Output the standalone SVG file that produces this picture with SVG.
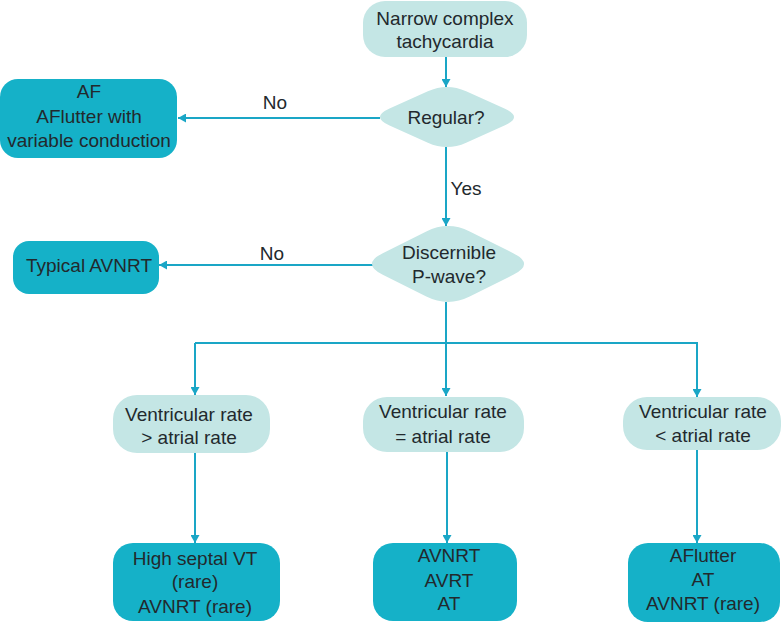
<svg xmlns="http://www.w3.org/2000/svg" width="781" height="624" viewBox="0 0 781 624">
<defs>
<style>
.light{fill:#C4E6E5;}
.dark{fill:#15B1C8;}
.t{font-family:"Liberation Sans",Arial,sans-serif;font-size:19px;fill:#22292d;text-anchor:middle;}
.c{stroke:#1AA6C6;stroke-width:2;fill:none;}
</style>
<marker id="ah" markerUnits="userSpaceOnUse" markerWidth="9" markerHeight="9" refX="8" refY="4.5" orient="auto">
<path d="M0,0 L8,4.5 L0,9 z" fill="#1AA6C6"/>
</marker>
</defs>
<rect width="781" height="624" fill="#ffffff"/>
<g id="connectors">
<line class="c" x1="446" y1="57" x2="446" y2="87" marker-end="url(#ah)"/>
<line class="c" x1="380" y1="118" x2="178" y2="118" marker-end="url(#ah)"/>
<line class="c" x1="446" y1="147" x2="446" y2="226" marker-end="url(#ah)"/>
<line class="c" x1="373" y1="265" x2="159" y2="265" marker-end="url(#ah)"/>
<polyline class="c" points="446,302 446,343"/>
<polyline class="c" points="195,343 698,343"/>
<line class="c" x1="195" y1="343" x2="195" y2="395" marker-end="url(#ah)"/>
<line class="c" x1="446" y1="343" x2="446" y2="396" marker-end="url(#ah)"/>
<line class="c" x1="697" y1="343" x2="697" y2="397" marker-end="url(#ah)"/>
<line class="c" x1="195" y1="453" x2="195" y2="543" marker-end="url(#ah)"/>
<line class="c" x1="447" y1="452" x2="447" y2="543" marker-end="url(#ah)"/>
<line class="c" x1="697" y1="450" x2="697" y2="543" marker-end="url(#ah)"/>
<text class="t" x="275" y="109">No</text>
<text class="t" x="466" y="195">Yes</text>
<text class="t" x="272" y="260">No</text>
</g>
<g id="start">
<rect class="light" x="363" y="1" width="164" height="56" rx="22"/>
<text class="t" x="445" y="25">Narrow complex</text>
<text class="t" x="445" y="48">tachycardia</text>
</g>
<g id="regular">
<path class="light" d="M389.55,108.4 L427.85,91.3 Q447,82.7 466.15,91.3 L504.45,108.4 Q523.6,117 504.45,125.6 L466.15,142.7 Q447,151.3 427.85,142.7 L389.55,125.6 Q370.4,117 389.55,108.4 Z"/>
<text class="t" x="446" y="124">Regular?</text>
</g>
<g id="af">
<rect class="dark" x="0" y="79" width="177" height="79" rx="18"/>
<text class="t" x="89" y="98">AF</text>
<text class="t" x="89" y="123">AFlutter with</text>
<text class="t" x="89" y="147">variable conduction</text>
</g>
<g id="pwave">
<path class="light" d="M382.8,253.15 L426.3,231.45 Q448,220.6 469.7,231.45 L513.2,253.15 Q534.9,264 513.2,274.85 L469.7,296.55 Q448,307.4 426.3,296.55 L382.8,274.85 Q361.1,264 382.8,253.15 Z"/>
<text class="t" x="449" y="259">Discernible</text>
<text class="t" x="449" y="283">P-wave?</text>
</g>
<g id="typical">
<rect class="dark" x="13" y="241" width="146" height="53" rx="16"/>
<text class="t" x="89" y="272">Typical AVNRT</text>
</g>
<g id="vgt">
<rect class="light" x="113" y="395" width="157" height="58" rx="24"/>
<text class="t" x="189" y="421">Ventricular rate</text>
<text class="t" x="189" y="444">&gt; atrial rate</text>
</g>
<g id="veq">
<rect class="light" x="363" y="397" width="161" height="55" rx="24"/>
<text class="t" x="443" y="418">Ventricular rate</text>
<text class="t" x="443" y="443">= atrial rate</text>
</g>
<g id="vlt">
<rect class="light" x="623" y="397" width="158" height="53" rx="24"/>
<text class="t" x="703" y="418">Ventricular rate</text>
<text class="t" x="703" y="442">&lt; atrial rate</text>
</g>
<g id="res-gt">
<rect class="dark" x="113" y="543" width="167" height="78" rx="20"/>
<text class="t" x="195" y="565">High septal VT</text>
<text class="t" x="195" y="588">(rare)</text>
<text class="t" x="195" y="613">AVNRT (rare)</text>
</g>
<g id="res-eq">
<rect class="dark" x="373" y="543" width="144" height="78" rx="20"/>
<text class="t" x="449" y="562">AVNRT</text>
<text class="t" x="449" y="587">AVRT</text>
<text class="t" x="449" y="610">AT</text>
</g>
<g id="res-lt">
<rect class="dark" x="628" y="543" width="152" height="79" rx="20"/>
<text class="t" x="703" y="562">AFlutter</text>
<text class="t" x="703" y="586">AT</text>
<text class="t" x="703" y="610">AVNRT (rare)</text>
</g>
</svg>
